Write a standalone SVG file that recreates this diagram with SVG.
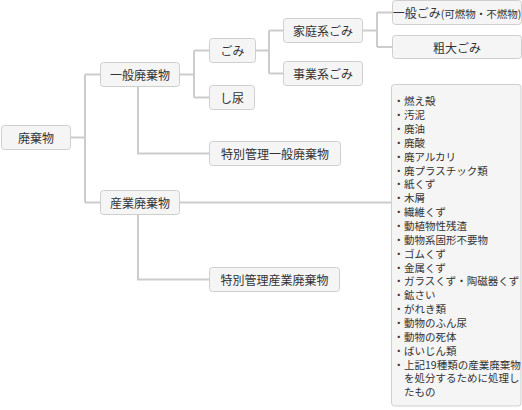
<svg xmlns="http://www.w3.org/2000/svg" width="522" height="410" viewBox="0 0 522 410">
<style>
.box{fill:#f5f5f5;stroke:#cfcfcf;stroke-width:1}
.lbl{font-family:"Noto Sans CJK JP","Noto Sans",sans-serif;font-size:12px;fill:#333;text-anchor:middle;dominant-baseline:central}
.li{font-family:"Noto Sans CJK JP","Noto Sans",sans-serif;font-size:10.5px;fill:#333;dominant-baseline:central}
.con{fill:none;stroke:#cccccc;stroke-width:2}
</style>
<rect width="522" height="410" fill="#ffffff"/>
<g id="connectors">
<path class="con" d="M70,137.5H85M85,74.5V202.5M85,74.5H100M85,202.5H100"/>
<path class="con" d="M179,74.5H194M194,50.5V97.5M194,50.5H209M194,97.5H209"/>
<path class="con" d="M138,86V153.5H209"/>
<path class="con" d="M138,214V279.5H209"/>
<path class="con" d="M179,202.5H391"/>
<path class="con" d="M255,50.5H269M269,30.5V73.5M269,30.5H283M269,73.5H283"/>
<path class="con" d="M362,30.5H377M377,12.5V47M377,12.5H392M377,47H392"/>
</g>
<g id="root"><rect class="box" x="1.5" y="125.5" width="69" height="24" rx="3"/><text class="lbl" x="36" y="137.5">廃棄物</text></g>
<g id="ippan"><rect class="box" x="100.5" y="62.5" width="79" height="24" rx="3"/><text class="lbl" x="140" y="74.5">一般廃棄物</text></g>
<g id="sangyo"><rect class="box" x="100.5" y="190.5" width="79" height="24" rx="3"/><text class="lbl" x="140" y="202.5">産業廃棄物</text></g>
<g id="gomi"><rect class="box" x="209.5" y="38.5" width="46" height="24" rx="3"/><text class="lbl" x="232.5" y="50.5">ごみ</text></g>
<g id="shinyo"><rect class="box" x="209.5" y="85.5" width="45" height="24" rx="3"/><text class="lbl" x="232" y="97.5">し尿</text></g>
<g id="tokubetsu-ippan"><rect class="box" x="209.5" y="141.5" width="131" height="24" rx="3"/><text class="lbl" x="275" y="153.5">特別管理一般廃棄物</text></g>
<g id="tokubetsu-sangyo"><rect class="box" x="209.5" y="267.5" width="130" height="24" rx="3"/><text class="lbl" x="274.5" y="279.5">特別管理産業廃棄物</text></g>
<g id="katei"><rect class="box" x="283.5" y="18.5" width="79" height="24" rx="3"/><text class="lbl" x="323" y="30.5">家庭系ごみ</text></g>
<g id="jigyo"><rect class="box" x="283.5" y="61.5" width="79" height="24" rx="3"/><text class="lbl" x="323" y="73.5">事業系ごみ</text></g>
<g id="ippan-gomi"><rect class="box" x="392.5" y="0.5" width="129" height="24" rx="3"/><text class="lbl" x="457" y="12.5">一般ごみ<tspan font-size="10.5">(可燃物・不燃物)</tspan></text></g>
<g id="sodai"><rect class="box" x="392.5" y="35.5" width="129" height="23" rx="3"/><text class="lbl" x="457" y="47">粗大ごみ</text></g>
<g id="list"><rect class="box" x="391.5" y="84.5" width="129.5" height="321.5" rx="3"/>
<text class="li" x="393.5" y="100.7">・燃え殻</text>
<text class="li" x="393.5" y="114.6">・汚泥</text>
<text class="li" x="393.5" y="128.4">・廃油</text>
<text class="li" x="393.5" y="142.3">・廃酸</text>
<text class="li" x="393.5" y="156.1">・廃アルカリ</text>
<text class="li" x="393.5" y="170">・廃プラスチック類</text>
<text class="li" x="393.5" y="183.9">・紙くず</text>
<text class="li" x="393.5" y="197.7">・木屑</text>
<text class="li" x="393.5" y="211.6">・繊維くず</text>
<text class="li" x="393.5" y="225.4">・動植物性残渣</text>
<text class="li" x="393.5" y="239.3">・動物系固形不要物</text>
<text class="li" x="393.5" y="253.2">・ゴムくず</text>
<text class="li" x="393.5" y="267">・金属くず</text>
<text class="li" x="393.5" y="280.9">・ガラスくず・陶磁器くず</text>
<text class="li" x="393.5" y="294.7">・鉱さい</text>
<text class="li" x="393.5" y="308.6">・がれき類</text>
<text class="li" x="393.5" y="322.5">・動物のふん尿</text>
<text class="li" x="393.5" y="336.3">・動物の死体</text>
<text class="li" x="393.5" y="350.2">・ばいじん類</text>
<text class="li" x="393.5" y="364">・上記19種類の産業廃棄物</text>
<text class="li" x="404" y="377.9">を処分するために処理し</text>
<text class="li" x="404" y="391.7">たもの</text>
</g>
</svg>
